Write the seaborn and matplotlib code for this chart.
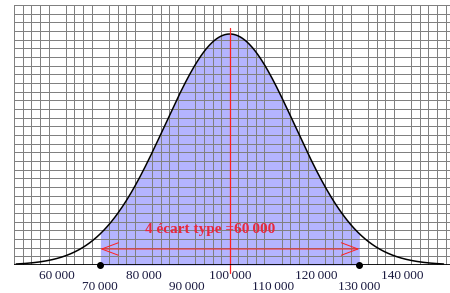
import numpy as np
import pandas as pd
import matplotlib
matplotlib.use("Agg")
import matplotlib.pyplot as plt
import seaborn as sns

# --- data ---
mean = 100000
sd = 15000
shade_low = 70000
shade_high = 130000
tick_values = [60000, 70000, 80000, 90000, 100000, 110000, 120000, 130000, 140000]
tick_labels = ["60\u2009000", "70\u2009000", "80\u2009000", "90\u2009000", "100\u2009000",
               "110\u2009000", "120\u2009000", "130\u2009000", "140\u2009000"]
annotation = "4 écart type =60\u2009000"

x = np.linspace(50500, 149500, 600)
y = np.exp(-0.5 * ((x - mean) / sd) ** 2) / (sd * np.sqrt(2 * np.pi))
df = pd.DataFrame({"x": x, "y": y})
peak = y.max()

sns.set_style("white")
plt.rcParams['font.family'] = ['Liberation Serif', 'DejaVu Serif']

fig = plt.figure(figsize=(4.5, 2.93), dpi=100)
ax = fig.add_axes([14 / 450, 28 / 293, 436 / 450, 260 / 293])
ymax = peak * 260 / 231
ax.set_xlim(50000, 151000)
ax.set_ylim(0, ymax)

# grid
cell = ymax / 30
ax.set_xticks(np.arange(50000, 151001, 2000), minor=True)
ax.set_yticks(np.arange(0, ymax + cell * 0.5, cell), minor=True)
ax.grid(which="minor", color="#808080", lw=0.7, antialiased=False)
ax.grid(which="major", visible=False)
ax.set_axisbelow(False)
ax.set_yticks([])

# shaded area
mask = (df.x >= shade_low) & (df.x <= shade_high)
ax.fill_between(df.x[mask], 0, df.y[mask], color="#b4b4ff", lw=0, zorder=1)

sns.lineplot(data=df, x="x", y="y", ax=ax, color="black", lw=1.1, zorder=3)

# red vertical line
ax.plot([mean, mean], [-0.9 * cell, (265 - 28) / 260 * ymax], color="#ff2020", lw=0.9,
        zorder=4, clip_on=False)

# axis line
ax.axhline(0, color="black", lw=2.0, zorder=5)
ax.scatter([shade_low, shade_high], [0, 0], color="black", s=16, zorder=6, clip_on=False)

# arrow
ya = 16 / 260 * ymax
ax.annotate("", xy=(shade_low, ya), xytext=(shade_high, ya),
            arrowprops=dict(arrowstyle="<->,head_length=1.2,head_width=0.45",
                            color="#ff2020", lw=0.7, shrinkA=0, shrinkB=0), zorder=6)
ax.text(mean - 4500, 36 / 260 * ymax, annotation, color="#e8283c", fontsize=11,
        fontweight="bold", ha="center", va="center", zorder=6)

# ticks
ax.set_xticks(tick_values)
ax.set_xticklabels(tick_labels, fontsize=9.5, color="#1a1a40")
ax.tick_params(axis="x", which="both", length=0)
for i, t in enumerate(ax.xaxis.get_major_ticks()):
    t.set_pad(3.5 if i % 2 == 0 else 11.5)
ax.set_xlabel("")
ax.set_ylabel("")
for s in ax.spines.values():
    s.set_visible(False)

fig.savefig("out.png", dpi=100)
